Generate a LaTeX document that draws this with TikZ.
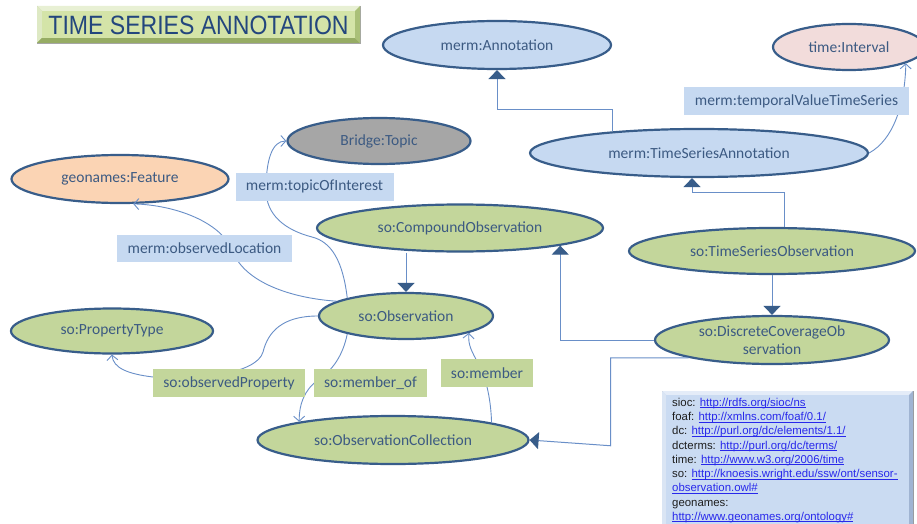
\documentclass[tikz,border=0pt]{standalone}
\usepackage{fontspec}
\usepackage{graphicx}
\setmainfont{Carlito}
\newfontfamily\arialf{Liberation Sans}
\usetikzlibrary{shapes.geometric,arrows.meta}
\definecolor{edge}{RGB}{56,93,138}
\definecolor{mermfill}{RGB}{198,217,241}
\definecolor{sofill}{RGB}{195,214,155}
\definecolor{timefill}{RGB}{242,220,219}
\definecolor{geofill}{RGB}{251,212,180}
\definecolor{topicfill}{RGB}{166,166,166}
\definecolor{txt}{RGB}{60,90,130}
\definecolor{conn}{RGB}{105,143,200}
\definecolor{linkc}{RGB}{40,40,235}
\definecolor{titletxt}{RGB}{35,70,125}
\definecolor{tbase}{RGB}{200,218,150}
\definecolor{ttop}{RGB}{232,240,212}
\definecolor{tleft}{RGB}{222,233,196}
\definecolor{tbot}{RGB}{150,172,100}
\definecolor{tright}{RGB}{170,192,120}
\definecolor{tface}{RGB}{212,228,168}
\definecolor{ltop}{RGB}{228,236,248}
\definecolor{lleft}{RGB}{218,229,244}
\definecolor{lright}{RGB}{160,180,210}
\definecolor{lface}{RGB}{202,219,242}
\tikzset{
  cls/.style={ellipse, draw=edge, line width=2.2pt, inner sep=0pt, text=txt,
    font=\fontsize{15.5}{18}\selectfont},
  lbl/.style={rectangle, inner sep=0pt, text=txt, minimum height=28,
    font=\fontsize{15.5}{18}\selectfont},
  rel/.style={draw=conn, line width=0.9pt, -{Straight Barb[length=5pt,width=11pt]}},
  isa/.style={draw=conn, line width=1pt, -{Triangle[length=9pt,width=17pt,color=edge,fill=edge]}},
}
\newcommand{\lk}[1]{{\color{linkc}\setbox0\hbox{#1}\rlap{\rule[-1.4pt]{\wd0}{0.55pt}}\box0}}
\begin{document}
\begin{tikzpicture}[x=1pt,y=-1pt]
\useasboundingbox (0,0) rectangle (917,524);
\fill[white] (0,0) rectangle (917,524);

% title box (bevelled)
\filldraw[draw=gray!70, line width=0.6pt, fill=tbase] (37,6) rectangle (360,43);
\fill[ttop] (37,6) -- (360,6) -- (355,11) -- (42,11) -- cycle;
\fill[tleft] (37,6) -- (42,11) -- (42,38) -- (37,43) -- cycle;
\fill[tbot] (37,43) -- (42,38) -- (355,38) -- (360,43) -- cycle;
\fill[tright] (360,6) -- (355,11) -- (355,38) -- (360,43) -- cycle;
\fill[tface] (42,11) rectangle (355,38);
\node[text=titletxt, inner sep=0pt, font=\arialf\fontsize{26.5}{28}\selectfont] (title) at (198.5,25.5)
  {\scalebox{0.87}[1]{TIME SERIES ANNOTATION}};

% classes
\node[cls, fill=mermfill, minimum width=228, minimum height=48] (ann) at (497,45) {merm:Annotation};
\node[cls, fill=timefill, minimum width=152, minimum height=46] (ti) at (849,47) {time:Interval};
\node[cls, fill=mermfill, minimum width=338, minimum height=48] (tsa) at (699,153) {merm:TimeSeriesAnnotation};
\node[cls, fill=topicfill, minimum width=183, minimum height=46] (bt) at (379,141) {Bridge:Topic};
\node[cls, fill=geofill, minimum width=217, minimum height=48] (geo) at (120,179) {geonames:Feature};
\node[cls, fill=sofill, minimum width=286, minimum height=47] (comp) at (460,228) {so:CompoundObservation};
\node[cls, fill=sofill, minimum width=286, minimum height=46] (tso) at (772,251) {so:TimeSeriesObservation};
\node[cls, fill=sofill, minimum width=174, minimum height=46] (obs) at (406,316) {so:Observation};
\node[cls, fill=sofill, minimum width=202, minimum height=45] (pt) at (112,331) {so:PropertyType};
\node[cls, fill=sofill, minimum width=234, minimum height=48, inner ysep=-7pt, align=center] (dco) at (772,340)
  {so:DiscreteCoverageOb\\servation};
\node[cls, fill=sofill, minimum width=271, minimum height=48] (oc) at (393,440) {so:ObservationCollection};

% subclass / structural connectors
\draw[isa] (tsa.166) -- ++(0,-22) -| (ann.south);
\draw[isa] (tso.62) -- ++(0,-34) -| ([xshift=-7pt]tsa.south);
\draw[isa] (tso.south) -- (dco.north);
\draw[isa] (obs.north |- comp.south) -- (obs.north);
\draw[isa] (dco.west) -| (comp.-10);
\draw[isa] (dco.-168) -- ++(-78,0) -- ++(0,88) -- (oc.east);

% property connectors
\draw[rel] (tsa.east) .. controls (893,140) and (905,105) .. (ti.-16);
\draw[rel] (obs.168) .. controls (290,298) and (245,282) .. (233,252) .. controls (222,222) and (175,205) .. (geo.-62);
\draw[rel] (obs.163) .. controls (343,262) and (332,242) .. (312,237) .. controls (285,230) and (266,215) .. (266,190) .. controls (266,160) and (272,141) .. (bt.west);
\draw[rel] (obs.west) .. controls (282,316) and (268,332) .. (263,352) .. controls (257,374) and (195,381) .. (153,377) .. controls (128,374) and (113,368) .. (pt.south);
\draw[rel] (obs.-163) .. controls (343,355) and (333,370) .. (318,380) .. controls (304,390) and (299,405) .. (oc.169);
\draw[rel] (oc.10) .. controls (491,402) and (487,380) .. (479,365) .. controls (471,350) and (468,345) .. (obs.-15);

% property labels
\node[lbl, fill=mermfill, minimum width=225] (l1) at (796.5,101) {merm:temporalValueTimeSeries};
\node[lbl, fill=mermfill, minimum width=158] (l2) at (314.5,186.5) {merm:topicOfInterest};
\node[lbl, fill=mermfill, minimum width=175, minimum height=27] (l3) at (204.5,248.5) {merm:observedLocation};
\node[lbl, fill=sofill, minimum width=152] (l4) at (229,383) {so:observedProperty};
\node[lbl, fill=sofill, minimum width=113] (l5) at (370.5,383) {so:member\_of};
\node[lbl, fill=sofill, minimum width=92] (l6) at (487,373) {so:member};

% legend box (bevelled)
\filldraw[draw=gray!80, line width=0.6pt, fill=mermfill] (662,391) rectangle (913,527);
\fill[ltop] (662,391) -- (913,391) -- (909,395) -- (666,395) -- cycle;
\fill[lleft] (662,391) -- (666,395) -- (666,527) -- (662,527) -- cycle;
\fill[lright] (913,391) -- (909,395) -- (909,527) -- (913,527) -- cycle;
\fill[lface] (666,395) rectangle (909,527);
\node[anchor=north west, inner sep=0pt, align=left, text={rgb,255:red,30;green,30;blue,30},
  font=\arialf\fontsize{11.4}{14.25}\selectfont] (legend) at (672,398)
  {sioc: \lk{http://rdfs.org/sioc/ns}\\
   foaf: \lk{http://xmlns.com/foaf/0.1/}\\
   dc: \lk{http://purl.org/dc/elements/1.1/}\\
   dcterms: \lk{http://purl.org/dc/terms/}\\
   time: \lk{http://www.w3.org/2006/time}\\
   so: \lk{http://knoesis.wright.edu/ssw/ont/sensor-}\\
   \lk{observation.owl\#}\\
   geonames:\\
   \lk{http://www.geonames.org/ontology\#}};
\end{tikzpicture}
\end{document}
